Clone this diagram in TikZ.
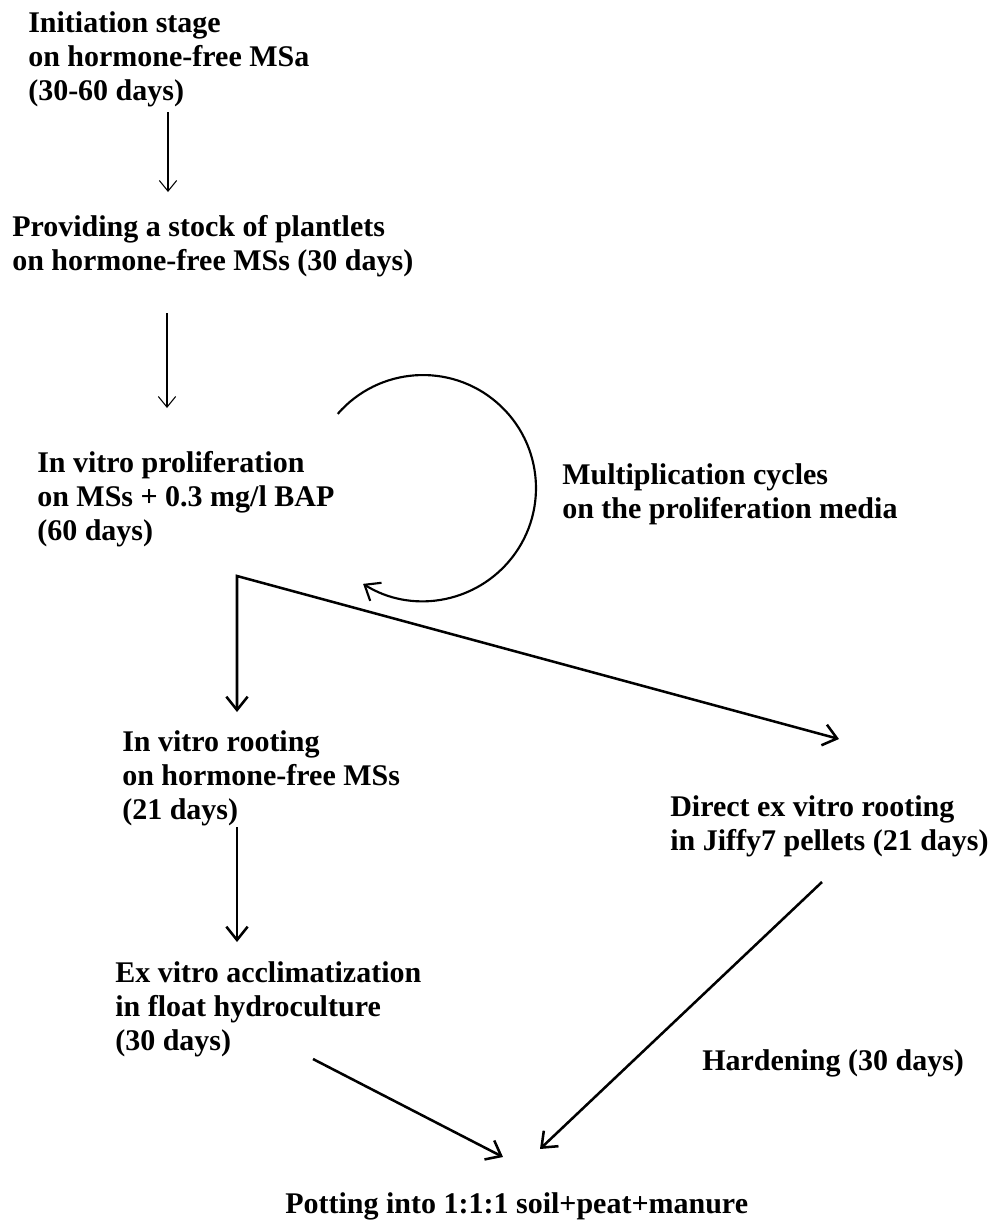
\documentclass[tikz,border=0pt]{standalone}
\usepackage{fontspec}
\setmainfont{Liberation Serif}
\usetikzlibrary{arrows.meta}
\begin{document}
\begin{tikzpicture}[x=0.75pt,y=-0.75pt,
  % nodes are placed by the baseline of their last line
  lbl/.style={anchor=base west, inner sep=0pt, align=left,
    font=\fontsize{22.5}{25.3}\selectfont\bfseries},
  thinarrow/.style={line width=0.8pt,
    -{Straight Barb[length=8pt,width=13pt,line width=0.8pt]}},
  thickarrow/.style={line width=1.9pt,
    -{Straight Barb[length=10pt,width=16pt]}},
  looparrow/.style={line width=1.6pt,
    -{Straight Barb[length=10pt,width=16pt]}},
  bothtips/.style={line width=1.9pt,
    {Straight Barb[length=10pt,width=16pt]}-{Straight Barb[length=10pt,width=16pt]}}]
\useasboundingbox[fill=white] (0,0) rectangle (991,1222);

% stages
\node[lbl] (n1) at (28,100) {Initiation stage\\on hormone-free MSa\\(30-60 days)};
\node[lbl] (n2) at (12,270) {Providing a stock of plantlets\\on hormone-free MSs (30 days)};
\node[lbl] (n3) at (37,540) {In vitro proliferation\\on MSs + 0.3 mg/l BAP\\(60 days)};
\node[lbl] (mult) at (562,518) {Multiplication cycles\\on the proliferation media};
\node[lbl] (n4) at (122,819) {In vitro rooting\\on hormone-free MSs\\(21 days)};
\node[lbl] (n5) at (670,850) {Direct ex vitro rooting\\in Jiffy7 pellets (21 days)};
\node[lbl] (n6) at (115,1050) {Ex vitro acclimatization\\in float hydroculture\\(30 days)};
\node[lbl] (hard) at (702,1070) {Hardening (30 days)};
\node[lbl] (n7) at (285,1213) {Potting into 1:1:1 soil+peat+manure};

% connector end points
\coordinate (n1out) at (168,112);
\coordinate (n2in)  at (168,192);
\coordinate (n2out) at (167,313);
\coordinate (n3in)  at (167,408);
\coordinate (split) at (237,576);
\coordinate (n4in)  at (237,712);
\coordinate (n5in)  at (839,739);
\coordinate (n4out) at (237,827);
\coordinate (n6in)  at (237,942);
\coordinate (n6out) at (313,1059);
\coordinate (n7inl) at (503,1157);
\coordinate (n5out) at (822,882);
\coordinate (n7inr) at (540,1149);
\coordinate (loopstart) at (337.7,413.9);

% connectors
\draw[thinarrow] (n1out) -- (n2in);
\draw[thinarrow] (n2out) -- (n3in);
\draw[looparrow] (loopstart) arc[start angle=221, end angle=482, radius=113];
\draw[bothtips] (n4in) -- (split) -- (n5in);
\draw[thickarrow] (n4out) -- (n6in);
\draw[thickarrow] (n6out) -- (n7inl);
\draw[thickarrow] (n5out) -- (n7inr);
\end{tikzpicture}
\end{document}
